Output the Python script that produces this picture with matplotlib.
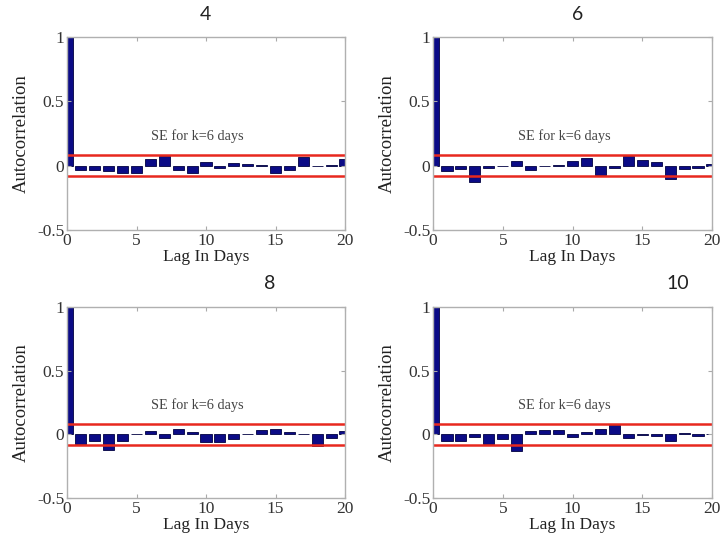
import matplotlib
matplotlib.use("Agg")
from matplotlib import pyplot as plt
import numpy as np

# lags 0..20, autocorrelation per panel
lags = np.arange(0, 21)
titles = ["4", "6", "8", "10"]
acf_4 = [1.0, -0.033, -0.033, -0.04, -0.06, -0.06, 0.055, 0.075, -0.03, -0.055, 0.03,
         -0.02, 0.02, 0.01, 0.005, -0.055, -0.03, 0.065, -0.003, 0.003, 0.05]
acf_6 = [1.0, -0.04, -0.025, -0.125, -0.02, -0.005, 0.035, -0.03, -0.003, 0.005, 0.04,
         0.06, -0.075, -0.02, 0.075, 0.045, 0.025, -0.1, -0.025, -0.015, 0.015]
acf_8 = [1.0, -0.075, -0.05, -0.125, -0.05, 0.005, 0.025, -0.03, 0.04, 0.02, -0.06,
         -0.06, -0.035, 0.005, 0.035, 0.04, 0.02, 0.0, -0.09, -0.025, 0.025]
acf_10 = [1.0, -0.055, -0.055, -0.02, -0.075, -0.04, -0.13, 0.03, 0.035, 0.035, -0.02,
          0.015, 0.04, 0.075, -0.03, -0.003, -0.015, -0.055, 0.01, -0.01, 0.0]
se_level = 0.082
se_text = "SE for k=6 days"

W, H = 722, 549
fig = plt.figure(figsize=(W / 100, H / 100), dpi=100)

serif = "Liberation Serif"
# axes boxes in pixels: left, top, right, bottom
boxes = [(67, 37, 345, 230), (433, 37, 712, 230),
         (67, 307, 345, 498), (433, 307, 712, 498)]
title_pos = [(205, 14), (578, 14), (270, 283), (678, 283)]
data = [acf_4, acf_6, acf_8, acf_10]

for i in range(4):
    l, t, r, b = boxes[i]
    ax = fig.add_axes([l / W, 1 - b / H, (r - l) / W, (b - t) / H])
    ax.bar(lags, data[i], width=0.8, color="#0b0b86", edgecolor="#000040", linewidth=0.6)
    ax.axhline(se_level, color="#e8281e", lw=1.8)
    ax.axhline(-se_level, color="#e8281e", lw=1.8)
    ax.text(9.4, 0.23, se_text, ha="center", va="center", fontsize=10.3,
            family=serif, color="#444444")
    ax.set_xlim(0, 20)
    ax.set_ylim(-0.5, 1)
    ax.set_xticks([0, 5, 10, 15, 20])
    ax.set_yticks([-0.5, 0, 0.5, 1])
    ax.set_yticklabels(["-0.5", "0", "0.5", "1"])
    ax.tick_params(direction="in", length=3, top=True, right=True, color="#aaaaaa",
                   labelsize=12.5, labelcolor="#333333", pad=2)
    for lab in ax.get_xticklabels() + ax.get_yticklabels():
        lab.set_family(serif)
    for s in ax.spines.values():
        s.set_color("#b0b0b0")
        s.set_linewidth(1.0)
    ax.set_xlabel("Lag In Days", family=serif, fontsize=12.5, color="#222222", labelpad=0)
    ax.set_ylabel("Autocorrelation", family=serif, fontsize=13.5, color="#222222", labelpad=5)
    tx, ty = title_pos[i]
    fig.text(tx / W, 1 - ty / H, titles[i], ha="center", va="center",
             fontsize=14, family="Lato", color="#222222")

fig.savefig("out.png", dpi=100)
